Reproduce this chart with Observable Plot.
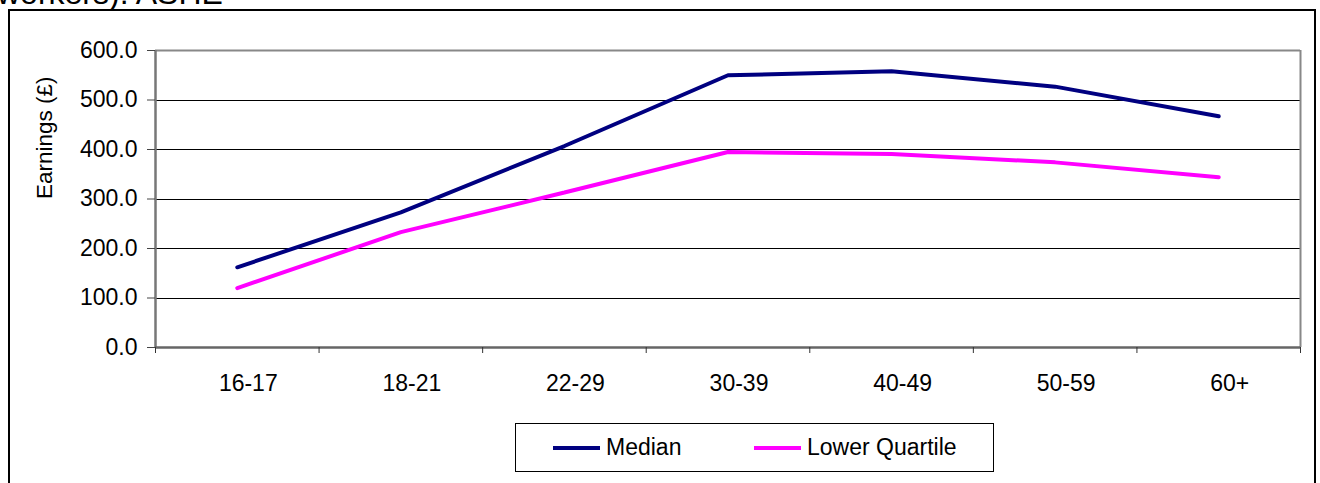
<!DOCTYPE html>
<html>
<head>
<meta charset="utf-8">
<script src="https://cdn.jsdelivr.net/npm/d3@7"></script>
<script src="https://cdn.jsdelivr.net/npm/@observablehq/plot@0.6"></script>
<style>
  html, body { margin: 0; padding: 0; background: #fff; }
  #wrap { position: relative; width: 1320px; height: 483px; overflow: hidden; font-family: "Liberation Sans", Arial, sans-serif; }
  #frame { position: absolute; left: 8px; top: 9px; width: 1308px; height: 520px; border: 2px solid #000; box-sizing: border-box; pointer-events: none; }
  #title { position: absolute; left: -3px; top: -23px; font-size: 32px; white-space: nowrap; color: #000; line-height: 32px; }
  #chart { position: absolute; left: 0; top: 0; }
  #legend { position: absolute; left: 515px; top: 423px; width: 479px; height: 49px; border: 1px solid #000; box-sizing: border-box; background: #fff; }
  .li { position: absolute; top: 0; height: 47px; display: flex; align-items: center; font-size: 23px; color: #000; }
  .sw { display: inline-block; width: 47px; height: 4px; margin-right: 6px; }
</style>
</head>
<body>
<div id="wrap">
  <div id="title">workers). ASHE</div>
  <div id="chart"></div>
  <div id="frame"></div>
  <div id="legend"></div>
</div>
<script>
const categories = ["16-17", "18-21", "22-29", "30-39", "40-49", "50-59", "60+"];
const median = [162, 273, 407, 550, 558, 527, 467];
const lowerQuartile = [120, 233, 313, 395, 391, 374, 344];
const yTicks = [0, 100, 200, 300, 400, 500, 600];
const seriesNames = ["Median", "Lower Quartile"];
const seriesColors = ["#000080", "#FF00FF"];
const yLabel = "Earnings (£)";

const rows = [];
categories.forEach((c, i) => {
  rows.push({age: c, pos: i + 0.5, series: seriesNames[0], value: median[i]});
  rows.push({age: c, pos: i + 0.5, series: seriesNames[1], value: lowerQuartile[i]});
});
const bounds = categories.map((c, i) => i).concat([categories.length]);
const centers = categories.map((c, i) => i + 0.5);

const chart = Plot.plot({
  width: 1320,
  height: 483,
  marginLeft: 155,
  marginRight: 20,
  marginTop: 50,
  marginBottom: 136,
  style: {fontFamily: "Liberation Sans, Arial, sans-serif", fontSize: "23px", background: "none", color: "#000"},
  x: {type: "linear", domain: [0, categories.length]},
  y: {domain: [0, 600]},
  color: {domain: seriesNames, range: seriesColors},
  marks: [
    Plot.ruleY(yTicks.filter(v => v > 0 && v < 600), {stroke: "#000", strokeWidth: 1, shapeRendering: "crispEdges"}),
    Plot.ruleY([600], {stroke: "#888", strokeWidth: 2}),
    Plot.ruleX([categories.length], {stroke: "#888", strokeWidth: 2}),
    Plot.line(rows, {x: "pos", y: "value", z: "series", stroke: "series", strokeWidth: 4, strokeLinejoin: "miter"}),
    Plot.ruleX([0], {stroke: "#777", strokeWidth: 2.5}),
    Plot.ruleY([0], {stroke: "#666", strokeWidth: 2.5}),
    Plot.axisY({ticks: yTicks, tickSize: 8, tickPadding: 10, tickFormat: d3.format(".1f"), label: null, stroke: "#444", fontSize: 23}),
    Plot.axisX({ticks: bounds, tickSize: 6, tickFormat: () => "", label: null, stroke: "#333"}),
    Plot.axisX({ticks: centers, tickSize: 0, tickPadding: 27, dx: 11, tickFormat: v => categories[Math.floor(v)], label: null, fontSize: 23}),
    Plot.text([yLabel], {frameAnchor: "left", dx: -111, rotate: -90, fontSize: 22.5, fill: "#000"})
  ]
});
document.getElementById("chart").appendChild(chart);

const legend = document.getElementById("legend");
const legendX = [37, 238];
seriesNames.forEach((name, i) => {
  const item = document.createElement("div");
  item.className = "li";
  item.style.left = legendX[i] + "px";
  const sw = document.createElement("span");
  sw.className = "sw";
  sw.style.background = seriesColors[i];
  item.appendChild(sw);
  item.appendChild(document.createTextNode(name));
  legend.appendChild(item);
});
</script>
</body>
</html>
